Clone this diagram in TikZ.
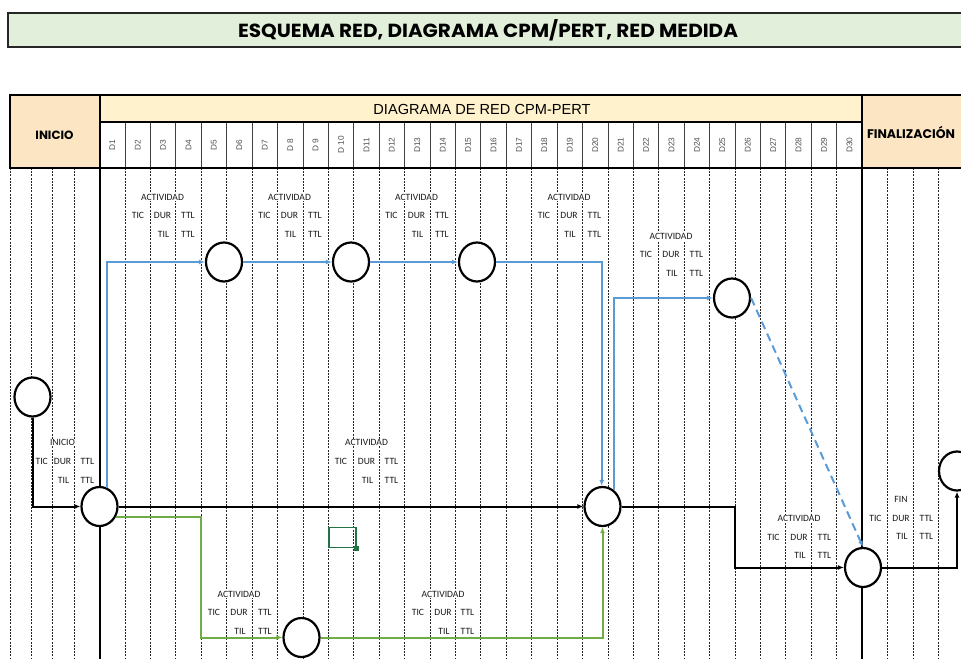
\documentclass[tikz,border=0pt]{standalone}
\usepackage{fontspec}
\usepackage{graphicx}
\setmainfont{Carlito}
\newfontfamily\arialf{Liberation Sans}
\newfontfamily\gothf{Poppins}
\usetikzlibrary{arrows.meta,shapes.geometric}
\definecolor{titlegreen}{HTML}{E2EFDA}
\definecolor{bandyellow}{HTML}{FFF2CC}
\definecolor{cellbeige}{HTML}{FBE5C2}
\definecolor{pathblue}{HTML}{5B9BD5}
\definecolor{pathgreen}{HTML}{70AD47}
\definecolor{selgreen}{HTML}{217346}
\definecolor{daygray}{HTML}{505050}

% prefix, x of TIC, x of DUR, x of TTL, y of title, title
\newcommand\ActBlock[6]{%
  \node[acttitle] (#1-title) at (#3,#5) {#6};
  \node[actlbl] (#1-tic) at (#2,#5+18.7) {TIC};
  \node[actlbl] (#1-dur) at (#3,#5+18.7) {DUR};
  \node[actlbl] (#1-ttl) at (#4,#5+18.7) {TTL};
  \node[actlbl] (#1-til) at (#3+1,#5+37.5) {TIL};
  \node[actlbl] (#1-ttlb) at (#4,#5+37.5) {TTL};
}

\begin{document}
\begin{tikzpicture}[x=1pt,y=-1pt,
  gridline/.style={line width=0.7pt, black!85, dash pattern=on 2pt off 1.2pt},
  daysep/.style={line width=0.7pt, black!75},
  frame/.style={line width=2pt, black},
  thinframe/.style={line width=1.2pt, black},
  pnode/.style={ellipse, draw, line width=2.2pt, fill=white, minimum width=36pt, minimum height=39pt, inner sep=0pt},
  acttitle/.style={font=\fontsize{9.6}{10}\selectfont, fill=white, inner sep=0.6pt, text=black!90},
  actlbl/.style={font=\fontsize{9.6}{10}\selectfont, inner sep=0.4pt, text=black!90},
  daylbl/.style={font=\arialf\fontsize{8.3}{9}\selectfont, text=daygray, rotate=90, inner sep=0pt},
  tip/.style={-{Latex[length=6pt,width=5pt]}},
  blackpath/.style={tip, line width=2pt, black},
  bluepath/.style={tip, line width=2pt, pathblue},
  greenpath/.style={tip, line width=2pt, pathgreen},
  bluedash/.style={tip, line width=2pt, pathblue, dash pattern=on 8pt off 5pt}
]
\useasboundingbox (0,0) rectangle (961,659);

% ---- title bar
\node[draw=black!85, line width=1.8pt, fill=titlegreen, minimum width=975pt, minimum height=34pt, anchor=north west, inner sep=0pt] (titlebox) at (7,12) {};
\node[anchor=base, inner sep=0pt] (titletext) at (488,37) {\resizebox{500pt}{18pt}{\gothf\bfseries ESQUEMA RED, DIAGRAMA CPM/PERT, RED MEDIDA}};

% ---- header fills
\fill[cellbeige] (10,95) rectangle (99.5,168);
\fill[bandyellow] (99.5,95) rectangle (862,122);
\fill[white] (99.5,122) rectangle (862,168);
\fill[cellbeige] (862,95) rectangle (975,168);
\foreach \k in {1,...,29} \draw[daysep] ({99.5+25.42*\k},122) -- ({99.5+25.42*\k},168);

% ---- body grid
\foreach \x in {10,31,52,74,887.8,913.3,938.7} \draw[gridline] (\x,168) -- (\x,659);
\foreach \k in {1,...,29} \draw[gridline] ({99.5+25.42*\k},168) -- ({99.5+25.42*\k},659);

% ---- frame
\draw[frame] (975,95) -- (10,95) -- (10,168) -- (975,168);
\draw[thinframe] (99.5,122) -- (862,122);
\draw[frame] (99.5,95) -- (99.5,659);
\draw[frame] (862,95) -- (862,659);

% ---- header texts
\node[inner sep=0pt] (hdrband) at (482,109.5) {\arialf\fontsize{14.6}{16}\selectfont DIAGRAMA DE RED CPM-PERT};
\node[anchor=base, inner sep=0pt] (hdrinicio) at (54.5,139.5) {\resizebox{38pt}{!}{\gothf\bfseries INICIO}};
\node[anchor=base, inner sep=0pt] (hdrfin) at (911,138.5) {\resizebox{88pt}{!}{\gothf\bfseries FINALIZACIÓN}};
\foreach \k/\t in {1/D1,2/D2,3/D3,4/D4,5/D5,6/D6,7/D7,8/D 8,9/D 9,10/D 10,11/D11,12/D12,13/D13,14/D14,15/D15,16/D16,17/D17,18/D18,19/D19,20/D20,21/D21,22/D22,23/D23,24/D24,25/D25,26/D26,27/D27,28/D28,29/D29,30/D30}
  \node[daylbl] (day\k) at ({99.5+25.42*(\k-0.5)},145) {\t};

% ---- activity labels
\ActBlock{a1}{138}{162.5}{188}{197}{ACTIVIDAD}
\ActBlock{a2}{264.5}{289.5}{315}{197}{ACTIVIDAD}
\ActBlock{a3}{391.5}{416.5}{442}{197}{ACTIVIDAD}
\ActBlock{a4}{544}{569}{594.5}{197}{ACTIVIDAD}
\ActBlock{a5}{646}{671}{696.5}{236}{ACTIVIDAD}
\ActBlock{a6}{41.7}{62.5}{87.3}{442.7}{INICIO}
\ActBlock{a7}{341}{366.5}{391.5}{442.7}{ACTIVIDAD}
\ActBlock{a8}{773.5}{799}{824.5}{518.3}{ACTIVIDAD}
\ActBlock{a9}{875.5}{901}{926.5}{499.3}{FIN}
\ActBlock{a10}{214}{239}{265}{594}{ACTIVIDAD}
\ActBlock{a11}{418}{443}{467.5}{594}{ACTIVIDAD}

% ---- selection cell
\node[draw=selgreen, line width=1.6pt, minimum width=26.7pt, minimum height=20pt, anchor=north west, inner sep=0pt] (selbox) at (328.3,526.7) {};
\node[fill=selgreen, minimum size=4.5pt, inner sep=0pt] (selhandle) at (selbox.south east) {};

% ---- event nodes
\node[pnode] (nA) at (32.5,397) {};
\node[pnode] (nB) at (99.5,506.5) {};
\node[pnode] (nC) at (224,262) {};
\node[pnode] (nD) at (351,262) {};
\node[pnode] (nE) at (477,262) {};
\node[pnode] (nF) at (732,298) {};
\node[pnode] (nG) at (602.5,506.5) {};
\node[pnode] (nH) at (863,567.5) {};
\node[pnode] (nI) at (957,471) {};
\node[pnode] (nJ) at (301.5,637.5) {};

% ---- connectors
\coordinate (g1) at (735,506.5);
\coordinate (gr1) at (200.5,637.5);
\draw[blackpath] (nA.south) |- (nB.west);
\draw[blackpath] (nB.east) -- (nG.west);
\draw[blackpath] (nG.east) -- (g1) |- (nH.west);
\draw[blackpath] (nH.east) -| (nI.south);

\draw[bluepath] (nB.68) |- (nC.west);
\draw[bluepath] (nC.east) -- (nD.west);
\draw[bluepath] (nD.east) -- (nE.west);
\draw[bluepath] (nE.east) -| ([xshift=-0.8pt]nG.north);
\draw[bluepath] (nG.55) |- (nF.west);
\draw[bluedash] (nF.east) -- (nH.north);

\draw[greenpath] (nB.-34) -| (gr1) -- (nJ.west);
\draw[greenpath] (nJ.east) -| (nG.south);
\end{tikzpicture}
\end{document}
